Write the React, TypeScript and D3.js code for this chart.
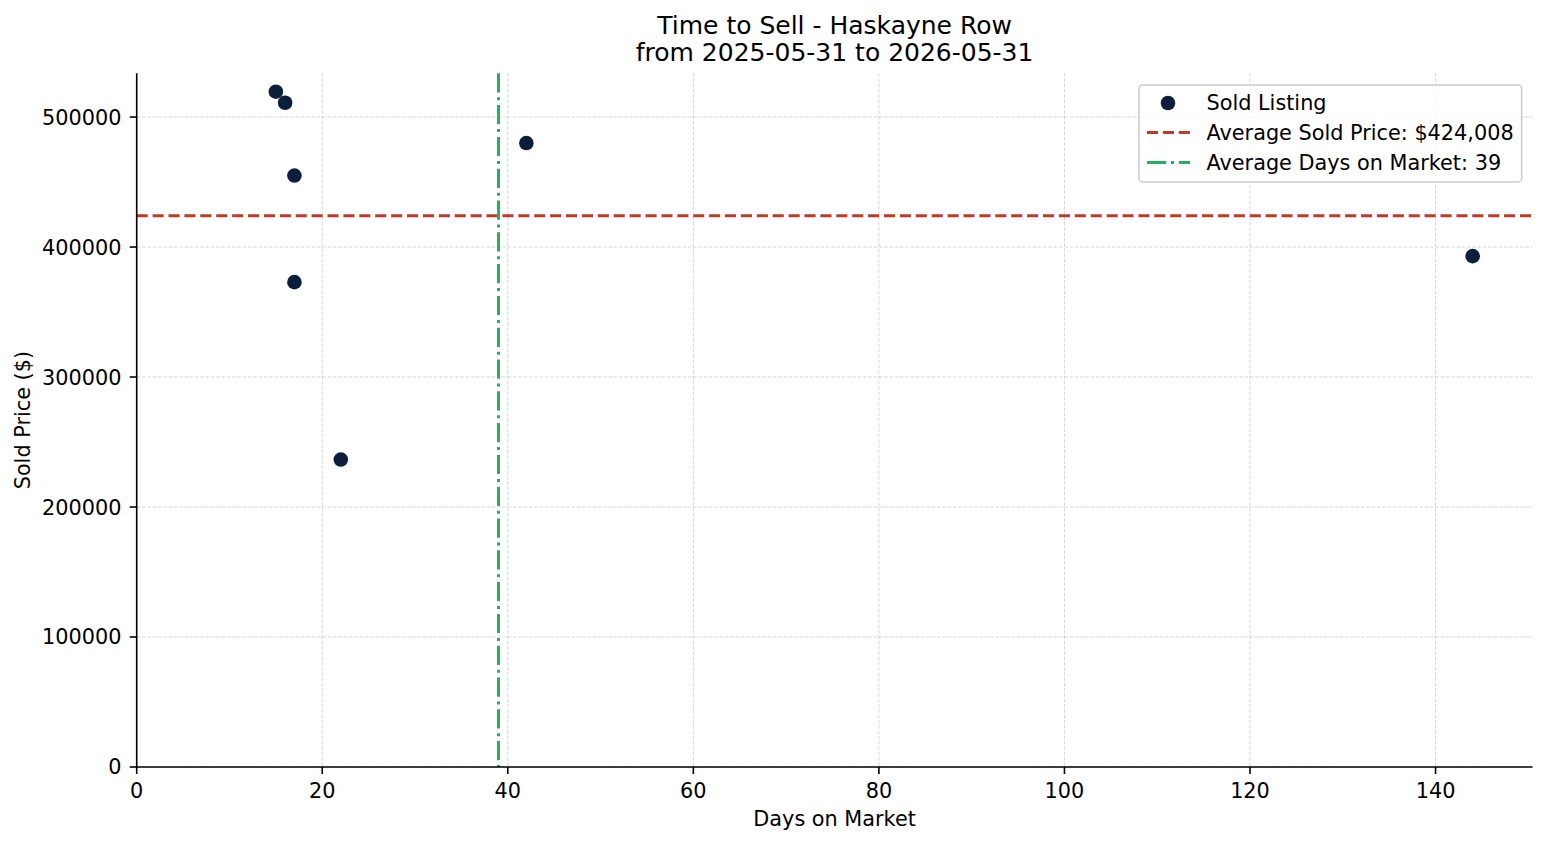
import React from 'react';
import * as d3 from 'd3';

// sold listings
const daysOnMarket = [15, 16, 17, 17, 22, 42, 144];
const soldPrices = [519500, 511000, 455000, 373000, 236500, 480000, 393000];
const xTicks = [0, 20, 40, 60, 80, 100, 120, 140];
const yTicks = [0, 100000, 200000, 300000, 400000, 500000];
const avgSoldPrice = 424008;
const avgDays = 39;
const titleLines = ['Time to Sell - Haskayne Row', 'from 2025-05-31 to 2026-05-31'];
const legendLabels = ['Sold Listing', 'Average Sold Price: $424,008', 'Average Days on Market: 39'];

const W = 1547;
const H = 845;
const FONT = '"DejaVu Sans", Verdana, sans-serif';
const FS = 20.8; // 10pt at 150dpi
const navy = '#0b1f3c';
const red = '#c0392b';
const green = '#27ae60';

const App = () => {
  const left = 136.7, right = 1532.5, top = 73.3, bottom = 767;

  // matplotlib style autoscale: 5% margin, lower limit pinned at 0
  const xMax = d3.max(daysOnMarket)!;
  const xMin = d3.min(daysOnMarket)!;
  const yMax = d3.max(soldPrices)!;
  const yMin = d3.min(soldPrices)!;

  const x = d3.scaleLinear().domain([0, xMax + 0.05 * (xMax - xMin)]).range([left, right]);
  const y = d3.scaleLinear().domain([0, yMax + 0.05 * (yMax - yMin)]).range([bottom, top]);

  const points = daysOnMarket.map((d, i) => ({ d, p: soldPrices[i] }));

  const gridStyle = { stroke: '#b0b0b0', strokeOpacity: 0.5, strokeWidth: 1, strokeDasharray: '3.7,1.6' };

  return (
    <svg width={W} height={H} style={{ position: 'absolute', left: 0, top: 0, background: '#fff' }}
      fontFamily={FONT}>
      <rect width={W} height={H} fill="#fff" />

      {/* grid */}
      {xTicks.map(t => (
        <line key={'gx' + t} x1={x(t)} x2={x(t)} y1={top} y2={bottom} {...gridStyle} />
      ))}
      {yTicks.map(t => (
        <line key={'gy' + t} x1={left} x2={right} y1={y(t)} y2={y(t)} {...gridStyle} />
      ))}

      {/* average lines */}
      <line x1={left} x2={right} y1={y(avgSoldPrice)} y2={y(avgSoldPrice)}
        stroke={red} strokeWidth={3} strokeDasharray="11.1,4.8" />
      <line x1={x(avgDays)} x2={x(avgDays)} y1={top} y2={bottom}
        stroke={green} strokeWidth={3} strokeDasharray="19.2,4.8,3,4.8" />

      {/* points */}
      {points.map((pt, i) => (
        <circle key={i} cx={x(pt.d)} cy={y(pt.p)} r={7.3} fill={navy} />
      ))}

      {/* spines */}
      <line x1={left} x2={left} y1={top} y2={bottom} stroke="#000" strokeWidth={1.6} />
      <line x1={left} x2={right} y1={bottom} y2={bottom} stroke="#000" strokeWidth={1.6} />

      {/* x ticks */}
      {xTicks.map(t => (
        <g key={'xt' + t}>
          <line x1={x(t)} x2={x(t)} y1={bottom} y2={bottom + 7} stroke="#000" strokeWidth={1.6} />
          <text x={x(t)} y={798} fontSize={FS} textAnchor="middle" fill="#000">{t}</text>
        </g>
      ))}

      {/* y ticks */}
      {yTicks.map(t => (
        <g key={'yt' + t}>
          <line x1={left - 7} x2={left} y1={y(t)} y2={y(t)} stroke="#000" strokeWidth={1.6} />
          <text x={121.5} y={y(t)} dy="0.36em" fontSize={FS} textAnchor="end" fill="#000">{t}</text>
        </g>
      ))}

      {/* axis labels */}
      <text x={(left + right) / 2} y={826} fontSize={FS} textAnchor="middle" fill="#000">Days on Market</text>
      <text transform={`translate(30,${(top + bottom) / 2}) rotate(-90)`} fontSize={FS} textAnchor="middle" fill="#000">
        Sold Price ($)
      </text>

      {/* title */}
      {titleLines.map((t, i) => (
        <text key={t} x={(left + right) / 2} y={34 + i * 27} fontSize={25} textAnchor="middle" fill="#000">{t}</text>
      ))}

      {/* legend */}
      <g>
        <rect x={1139} y={85} width={382.7} height={97} rx={4} fill="#fff" fillOpacity={0.8}
          stroke="#cccccc" strokeWidth={1.6} />
        <circle cx={1168} cy={103} r={7.3} fill={navy} />
        <line x1={1147} x2={1190} y1={132.5} y2={132.5} stroke={red} strokeWidth={3} strokeDasharray="11.1,4.8" />
        <line x1={1147} x2={1190} y1={162.5} y2={162.5} stroke={green} strokeWidth={3} strokeDasharray="19.2,4.8,3,4.8" />
        {legendLabels.map((l, i) => (
          <text key={l} x={1206.5} y={109.5 + i * 30} fontSize={FS} fill="#000">{l}</text>
        ))}
      </g>
    </svg>
  );
};

export default App;
